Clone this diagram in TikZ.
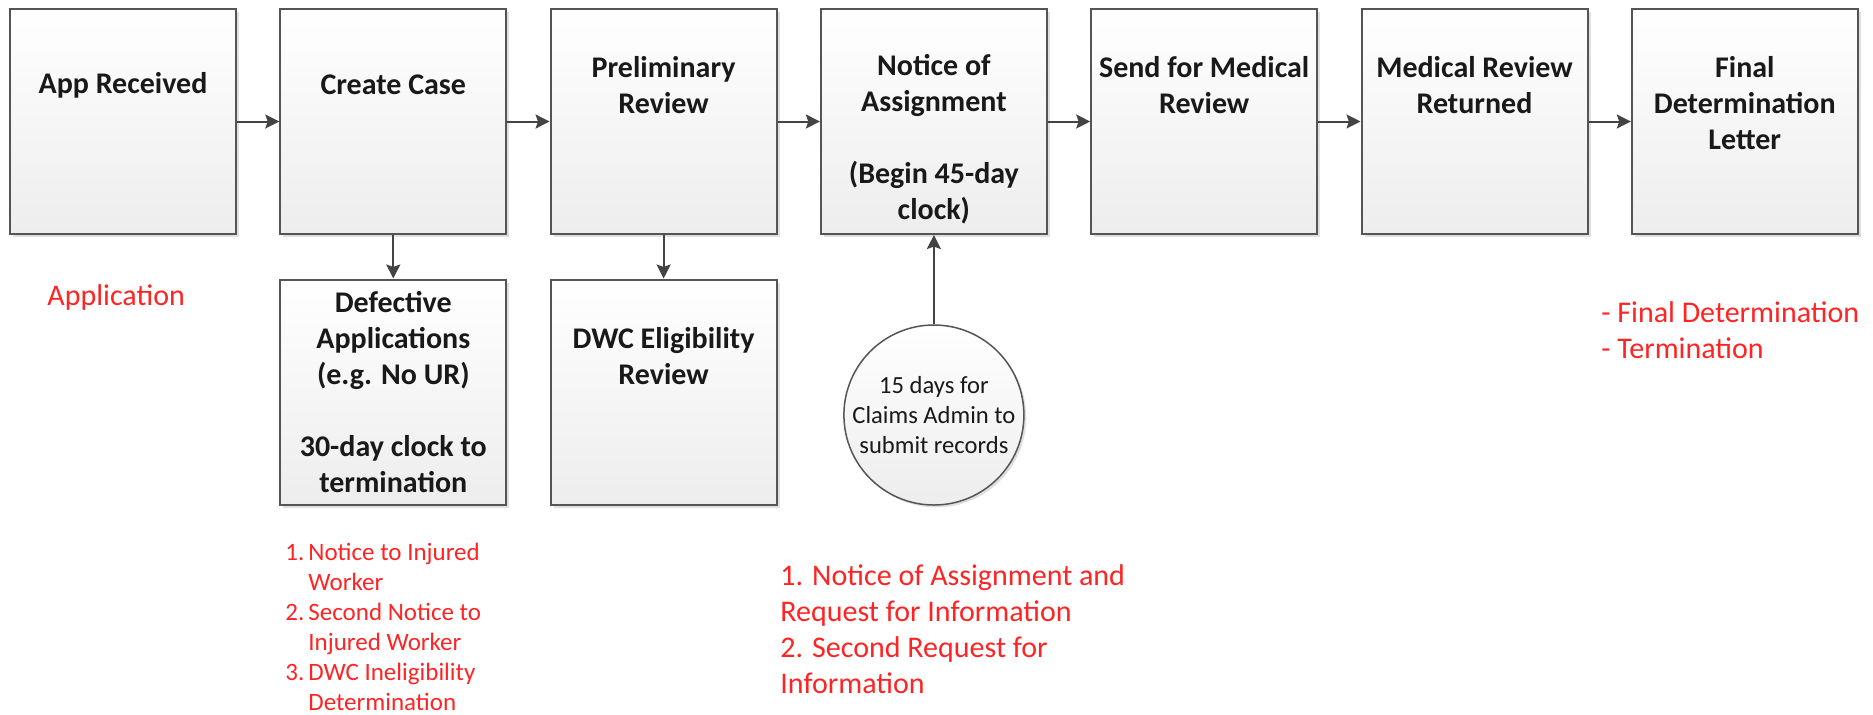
\documentclass[tikz,border=0pt]{standalone}
\usepackage{fontspec}
\setmainfont{Carlito}
\usetikzlibrary{arrows.meta,shadows}
\definecolor{bordergray}{HTML}{555555}
\definecolor{arrowgray}{HTML}{434343}
\definecolor{redtext}{HTML}{FF2424}
\definecolor{boxbottom}{HTML}{EDEDED}
\tikzset{
  stepbox/.style={draw=bordergray, line width=1pt, top color=white, bottom color=boxbottom,
    minimum width=113pt, minimum height=112.5pt, inner sep=0pt,
    general shadow={fill=black!12, shadow xshift=1.5pt, shadow yshift=-1.5pt}},
  boxtext/.style={font=\bfseries\fontsize{15}{18}\selectfont, align=center, inner sep=0pt, text=black!90},
  redbig/.style={font=\fontsize{15}{18}\selectfont, text=redtext, align=left, inner sep=0pt, anchor=west},
  redsmall/.style={font=\fontsize{12.5}{15}\selectfont, text=redtext, inner sep=0pt, anchor=west},
  flow/.style={draw=arrowgray, line width=1pt, -{Stealth[length=7pt, width=7pt, inset=1.2pt]}},
  clockcircle/.style={circle, draw=bordergray, line width=0.75pt, top color=white, bottom color=boxbottom,
    minimum size=90pt, inner sep=0pt, align=center, font=\fontsize{12.3}{15}\selectfont, text=black!90,
    general shadow={fill=black!12, shadow xshift=1.2pt, shadow yshift=-1.2pt}},
}
\begin{document}
\begin{tikzpicture}[x=0.5pt, y=-0.5pt]
\useasboundingbox (0,0) rectangle (1873,714);

% main row of boxes
\node[stepbox] (b1) at (123,121.5) {};
\node[stepbox] (b2) at (393.3,121.5) {};
\node[stepbox] (b3) at (663.6,121.5) {};
\node[stepbox] (b4) at (933.9,121.5) {};
\node[stepbox] (b5) at (1204.2,121.5) {};
\node[stepbox] (b6) at (1474.5,121.5) {};
\node[stepbox] (b7) at (1744.8,121.5) {};

% lower boxes
\node[stepbox] (def) at (393.3,392) {};
\node[stepbox] (dwc) at (663.6,392) {};

% circle
\node[clockcircle] (clock) at (933.9,415) {15 days for\\Claims Admin to\\submit records};

% box texts
\node[boxtext] (t1) at (123,85) {App Received};
\node[boxtext] (t2) at (393.3,85) {Create Case};
\node[boxtext] (t3) at (663.6,85) {Preliminary\\Review};
\node[boxtext] (t4) at (933.9,139) {Notice of\\Assignment\\[18pt](Begin 45-day\\clock)};
\node[boxtext] (t5) at (1204.2,85) {Send for Medical\\Review};
\node[boxtext] (t6) at (1474.5,85) {Medical Review\\Returned};
\node[boxtext] (t7) at (1744.8,103) {Final\\Determination\\Letter};
\node[boxtext] (tdef) at (393.3,392) {Defective\\Applications\\(e.g. No UR)\\[18pt]30-day clock to\\termination};
\node[boxtext] (tdwc) at (663.6,356.5) {DWC Eligibility\\Review};

% connectors
\draw[flow] (b1.east) -- (b2.west);
\draw[flow] (b2.east) -- (b3.west);
\draw[flow] (b3.east) -- (b4.west);
\draw[flow] (b4.east) -- (b5.west);
\draw[flow] (b5.east) -- (b6.west);
\draw[flow] (b6.east) -- (b7.west);
\draw[flow] (b2.south) -- (def.north);
\draw[flow] (b3.south) -- (dwc.north);
\draw[flow] (clock.north) -- (b4.south);

% red annotations
\node[redbig] (rapp) at (47,297) {Application};
\node[redsmall] (rdef) at (285,629) {%
  \begin{tabular}{@{}p{11.5pt}@{}l@{}}
  1. & Notice to Injured\\
     & Worker\\
  2. & Second Notice to\\
     & Injured Worker\\
  3. & DWC Ineligibility\\
     & Determination
  \end{tabular}};
\node[redbig] (rnoa) at (780,629) {1. Notice of Assignment and\\Request for Information\\2. Second Request for\\Information};
\node[redbig] (rfin) at (1601,330) {- Final Determination\\- Termination};
\end{tikzpicture}
\end{document}
